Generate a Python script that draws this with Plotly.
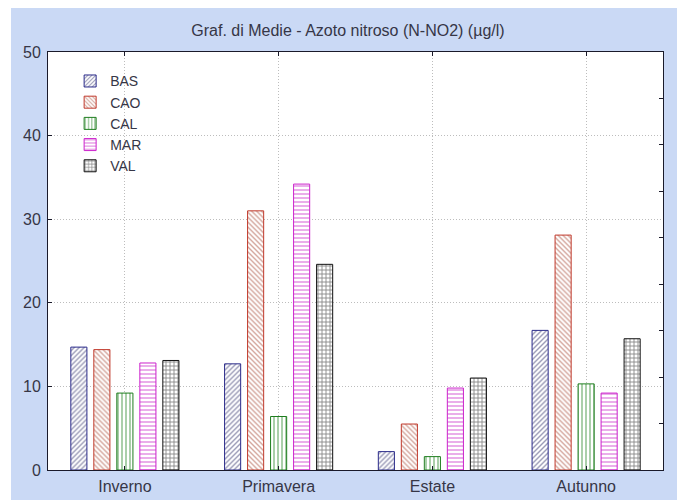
import plotly.graph_objects as go

categories = ["Inverno", "Primavera", "Estate", "Autunno"]
series_names = ["BAS", "CAO", "CAL", "MAR", "VAL"]
BAS = [14.7, 12.7, 2.2, 16.7]
CAO = [14.4, 31.0, 5.5, 28.1]
CAL = [9.2, 6.4, 1.6, 10.3]
MAR = [12.8, 34.2, 9.8, 9.2]
VAL = [13.1, 24.6, 11.0, 15.7]
y_ticks = [0, 10, 20, 30, 40, 50]
title_text = "Graf. di Medie - Azoto nitroso (N-NO2) (µg/l)"

values = [BAS, CAO, CAL, MAR, VAL]
line_colors = ["#2a2a8a", "#c0392b", "#1e7d1e", "#cc22cc", "#111111"]
pat_colors = ["#35356e", "#a84a36", "#2a862a", "#cc33cc", "#111111"]
shapes_pat = ["/", "\\", "|", "-", "+"]
pat_sizes = [3.5, 3.5, 4, 4, 4]

FONT = "Liberation Sans, Arial, sans-serif"
BLUE = "#cad9f5"
TXT = "#363646"

fig = go.Figure()
for name, vals, lc, pc, sh, ps in zip(series_names, values, line_colors, pat_colors, shapes_pat, pat_sizes):
    fig.add_trace(go.Bar(
        name=name, x=categories, y=vals,
        marker=dict(
            color="white",
            line=dict(color=lc, width=1),
            pattern=dict(shape=sh, fgcolor=pc, bgcolor="white", size=ps, solidity=0.4, fillmode="overlay"),
        ),
    ))

# invisible trace for right-side inner ticks
fig.add_trace(go.Scatter(x=[categories[0]], y=[0], yaxis="y2", mode="markers",
                         marker=dict(opacity=0), showlegend=False, hoverinfo="skip"))

fig.update_layout(
    width=677, height=500,
    margin=dict(l=48, r=14, t=52, b=30, autoexpand=False),
    paper_bgcolor=BLUE,
    plot_bgcolor="white",
    barmode="group",
    bargap=0.252,
    bargroupgap=0.30,
    font=dict(family=FONT, size=15, color=TXT),
    title=dict(text=title_text, x=0.514, xref="container", y=1 - 30 / 500, yref="container",
               xanchor="center", yanchor="middle", font=dict(family=FONT, size=16, color=TXT)),
    xaxis=dict(type="category", showline=True, linecolor="#1a1a2a", linewidth=1, mirror="ticks",
               ticks="inside", ticklen=4, tickcolor="#1a1a2a", automargin=False,
               showgrid=True, gridcolor="#bdbdbd", griddash="1px,2px", gridwidth=1,
               tickfont=dict(size=16), ticklabelstandoff=2),
    yaxis=dict(range=[0, 50], tickvals=y_ticks, showline=True, linecolor="#1a1a2a", linewidth=1,
               mirror=True, ticks="inside", ticklen=4, tickcolor="#1a1a2a", automargin=False,
               showgrid=True, gridcolor="#bdbdbd", griddash="1px,2px", gridwidth=1,
               zeroline=False, tickfont=dict(size=16), ticklabelstandoff=3),
    yaxis2=dict(overlaying="y", side="right", range=[0, 9], dtick=1, ticks="inside", ticklen=4,
                tickcolor="#1a1a2a", showticklabels=False, showgrid=False, zeroline=False,
                showline=False, automargin=False),
    legend=dict(x=0.036, y=0.968, xanchor="left", yanchor="top", bgcolor="rgba(0,0,0,0)",
                font=dict(size=14, color=TXT), tracegroupgap=0),
    showlegend=True,
    shapes=[
        dict(type="rect", xref="paper", yref="paper", x0=-0.1, x1=(11 - 48) / 615,
             y0=-0.2, y1=1.2, fillcolor="white", line=dict(width=0), layer="above"),
        dict(type="rect", xref="paper", yref="paper", x0=-0.1, x1=1.1,
             y0=(470 - 8) / 418, y1=1.2, fillcolor="white", line=dict(width=0), layer="above"),
    ],
)

fig.write_html("out.html")
